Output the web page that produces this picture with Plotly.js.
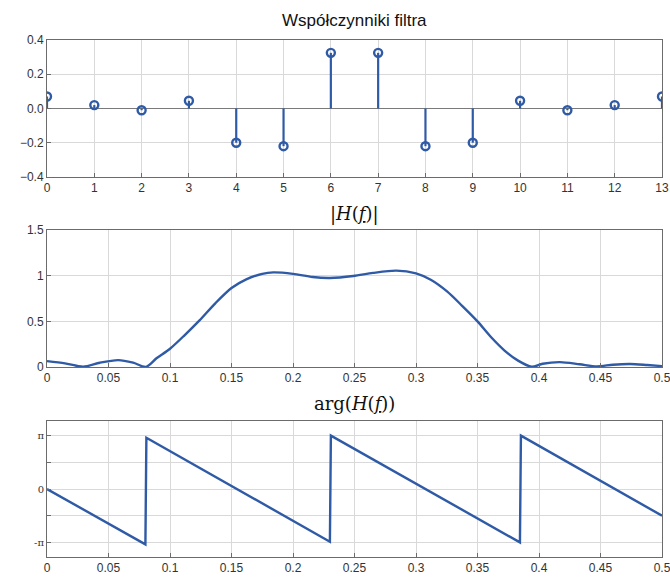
<!DOCTYPE html>
<html>
<head>
<meta charset="utf-8">
<script src="https://cdn.plot.ly/plotly-3.0.1.min.js"></script>
<style>html,body{margin:0;padding:0;background:#fff;}#chart{width:670px;height:578px;}</style>
</head>
<body>
<div id="chart"></div>
<script>
// ---- data ----
const tapIndex = [0,1,2,3,4,5,6,7,8,9,10,11,12,13];
const tapValue = [0.07,0.02,-0.01,0.045,-0.20,-0.22,0.325,0.325,-0.22,-0.20,0.045,-0.01,0.02,0.07];

const magFreq = [0,0.0146,0.0295,0.043,0.058,0.07,0.0805,0.089,0.1,0.112,0.124,0.137,0.15,0.162,0.175,0.184,0.2,0.216,0.23,0.249,0.265,0.284,0.3,0.312,0.325,0.3375,0.35,0.3615,0.372,0.383,0.394,0.403,0.417,0.433,0.447,0.46,0.474,0.488,0.5];
const magValue = [0.065,0.04,0.003,0.047,0.075,0.047,0.002,0.095,0.2,0.35,0.51,0.7,0.865,0.96,1.02,1.036,1.02,0.985,0.975,0.996,1.03,1.055,1.025,0.955,0.83,0.67,0.5,0.32,0.18,0.07,0.003,0.036,0.053,0.03,0.007,0.025,0.033,0.022,0.01];

const phaseFreq  = [0,0.0800,0.0808,0.2300,0.2308,0.3845,0.3853,0.5];
const phaseValue = [0,-3.26,3.02,-3.10,3.14,-3.14,3.14,-1.57];

const freqTicks = [0,0.05,0.1,0.15,0.2,0.25,0.3,0.35,0.4,0.45,0.5];
const freqTickText = ['0','0.05','0.1','0.15','0.2','0.25','0.3','0.35','0.4','0.45','0.5'];
const phaseTickVals = [-Math.PI,-Math.PI/2,0,Math.PI/2,Math.PI];
const phaseTickText = ['-π','','0','','π'];

// ---- styling ----
const blue = '#2f5aa6';
const gridC = '#d9d9d9';
const axC = '#6b6b6b';
const tickFont = {family:'Liberation Sans, Arial, sans-serif', size:12, color:'#333'};

// stems built from the data arrays
const stemX = [], stemY = [];
tapIndex.forEach((x,i)=>{stemX.push(x,x,null); stemY.push(0,tapValue[i],null);});

const traces = [
  {x:stemX, y:stemY, mode:'lines', line:{color:blue,width:2.2}, xaxis:'x', yaxis:'y', hoverinfo:'skip', showlegend:false},
  {x:tapIndex, y:tapValue, mode:'markers', marker:{symbol:'circle-open',size:8,color:blue,line:{width:2.4,color:blue}}, xaxis:'x', yaxis:'y', showlegend:false},
  {x:magFreq, y:magValue, mode:'lines', line:{color:blue,width:2.4,shape:'spline',smoothing:0.8}, xaxis:'x2', yaxis:'y2', showlegend:false},
  {x:phaseFreq, y:phaseValue, mode:'lines', line:{color:blue,width:2.4}, xaxis:'x3', yaxis:'y3', showlegend:false}
];

function ax(extra){
  return Object.assign({
    showgrid:true, gridcolor:gridC, gridwidth:1,
    showline:true, linecolor:axC, linewidth:1, mirror:true,
    ticks:'inside', ticklen:4, tickcolor:axC,
    zeroline:false, tickfont:tickFont, fixedrange:true,
    ticklabeloverflow:'allow'
  }, extra);
}

const layout = {
  width:670, height:578,
  margin:{l:47, r:8, t:40, b:21},
  paper_bgcolor:'#fff', plot_bgcolor:'#fff',
  xaxis: ax({domain:[0,1], range:[0,13], tickmode:'linear', tick0:0, dtick:1, anchor:'y'}),
  yaxis: ax({domain:[0.735,1], range:[-0.4,0.4], tickmode:'linear', tick0:-0.4, dtick:0.2, anchor:'x', zeroline:true, zerolinecolor:'#7a7a7a', zerolinewidth:1.2, tickformat:'.1f'}),
  xaxis2: ax({domain:[0,1], range:[0,0.5], tickmode:'array', tickvals:freqTicks, ticktext:freqTickText, anchor:'y2'}),
  yaxis2: ax({domain:[0.3675,0.6325], range:[0,1.5], tickmode:'array', tickvals:[0,0.5,1,1.5], ticktext:['0','0.5','1','1.5'], anchor:'x2'}),
  xaxis3: ax({domain:[0,1], range:[0,0.5], tickmode:'array', tickvals:freqTicks, ticktext:freqTickText, anchor:'y3'}),
  yaxis3: ax({domain:[0,0.263], range:[-4,4], tickmode:'array', tickvals:phaseTickVals, ticktext:phaseTickText, anchor:'x3', tickfont:{family:'DejaVu Serif, serif', size:10, color:'#333'}}),
  annotations:[
    {text:'Współczynniki filtra', xref:'paper', yref:'paper', x:0.5, y:1, yshift:8, xanchor:'center', yanchor:'bottom', showarrow:false, font:{family:'Liberation Sans, Arial, sans-serif', size:17, color:'#111'}},
    {text:'|<i>H</i>(<span style="text-decoration:underline"><i>f</i></span>)|', xref:'paper', yref:'paper', x:0.5, y:0.6325, yshift:3, xanchor:'center', yanchor:'bottom', showarrow:false, font:{family:'DejaVu Serif, Liberation Serif, serif', size:18, color:'#111'}},
    {text:'arg(<i>H</i>(<span style="text-decoration:underline"><i>f</i></span>))', xref:'paper', yref:'paper', x:0.5, y:0.263, yshift:5, xanchor:'center', yanchor:'bottom', showarrow:false, font:{family:'DejaVu Serif, Liberation Serif, serif', size:18, color:'#111'}}
  ]
};

Plotly.newPlot('chart', traces, layout, {displayModeBar:false, staticPlot:true});
</script>
</body>
</html>
